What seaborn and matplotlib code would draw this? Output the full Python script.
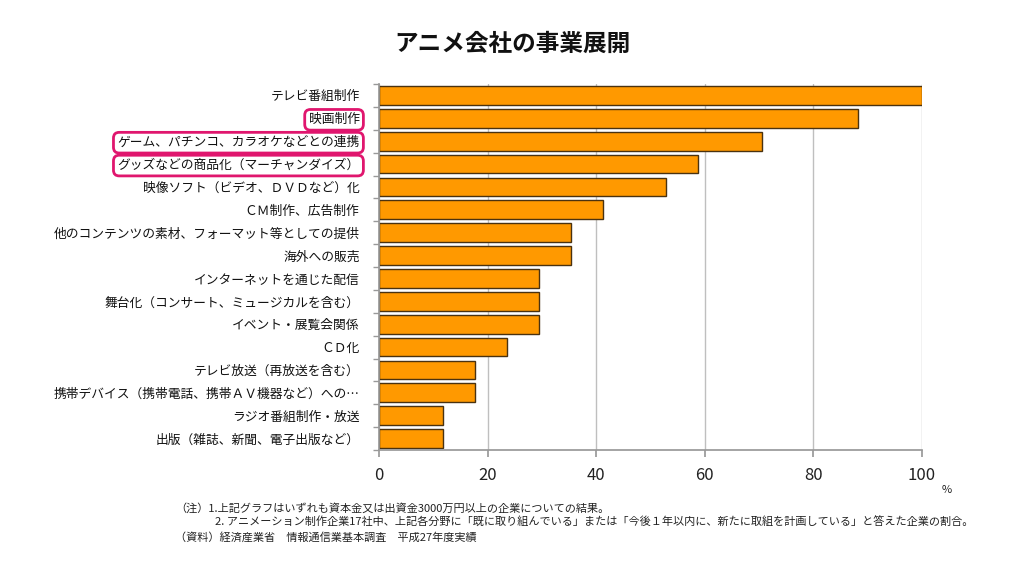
import numpy as np
import matplotlib
matplotlib.use("Agg")
import matplotlib.pyplot as plt
import seaborn as sns
import pandas as pd

# data (share of 17 companies, %)
categories = [
    "テレビ番組制作",
    "映画制作",
    "ゲーム、パチンコ、カラオケなどとの連携",
    "グッズなどの商品化（マーチャンダイズ）",
    "映像ソフト（ビデオ、ＤＶＤなど）化",
    "ＣＭ制作、広告制作",
    "他のコンテンツの素材、フォーマット等としての提供",
    "海外への販売",
    "インターネットを通じた配信",
    "舞台化（コンサート、ミュージカルを含む）",
    "イベント・展覧会関係",
    "ＣＤ化",
    "テレビ放送（再放送を含む）",
    "携帯デバイス（携帯電話、携帯ＡＶ機器など）への…",
    "ラジオ番組制作・放送",
    "出版（雑誌、新聞、電子出版など）",
]
values = [100, 88.2, 70.6, 58.8, 52.9, 41.2, 35.3, 35.3,
          29.4, 29.4, 29.4, 23.5, 17.6, 17.6, 11.8, 11.8]
highlighted = [1, 2, 3]
x_ticks = [0, 20, 40, 60, 80, 100]

sns.set_theme(style="white")
plt.rcParams['font.family'] = ['Noto Sans CJK JP', 'DejaVu Sans']

df = pd.DataFrame({"category": categories, "value": values})

fig = plt.figure(figsize=(10.24, 5.82), dpi=100)
ax = fig.add_axes([379 / 1024, 1 - 450 / 582, 543 / 1024, 366 / 582])

ax.grid(axis="x", color="#bfbfbf", linewidth=1)
ax.set_axisbelow(True)
sns.barplot(data=df, x="value", y="category", orient="h", color="#ff9900",
            edgecolor="#4a3210", linewidth=1, width=0.82, saturation=1, ax=ax)

ax.set_xlim(0, 100)
ax.set_ylim(len(categories) - 0.5, -0.5)
ax.set_xticks(x_ticks)
ax.set_xticklabels([str(t) for t in x_ticks], fontsize=12, color="#222222")
ax.set_xlabel("")
ax.set_ylabel("")
ax.tick_params(axis="x", bottom=True, length=5, color="#999999", pad=7)
ax.tick_params(axis="y", left=False, pad=8)
ax.set_yticks(np.arange(-0.5, len(categories), 1), minor=True)
ax.tick_params(axis="y", which="minor", left=True, length=4, color="#999999")

for s in ["top", "right"]:
    ax.spines[s].set_visible(False)
for s in ["left", "bottom"]:
    ax.spines[s].set_color("#999999")

for i, lab in enumerate(ax.get_yticklabels()):
    lab.set_fontsize(9.2)
    lab.set_color("#111111")
    if i in highlighted:
        lab.set_bbox(dict(boxstyle="round,pad=0.3,rounding_size=0.45",
                          facecolor="none", edgecolor="#e0166e", linewidth=2))

fig.text(0.5, 1 - 44 / 582, "アニメ会社の事業展開", ha="center", va="center",
         fontsize=17, fontweight="bold", color="#111111")
fig.text(947 / 1024, 1 - 490 / 582, "%", ha="center", va="center", fontsize=8,
         color="#222222")

notes = [
    (175, 508, "（注）1.上記グラフはいずれも資本金又は出資金3000万円以上の企業についての結果。"),
    (215, 522, "2. アニメーション制作企業17社中、上記各分野に「既に取り組んでいる」または「今後１年以内に、新たに取組を計画している」と答えた企業の割合。"),
    (175, 537, "（資料）経済産業省　情報通信業基本調査　平成27年度実績"),
]
for x, y, t in notes:
    fig.text(x / 1024, 1 - y / 582, t, ha="left", va="center", fontsize=8,
             color="#222222")

fig.savefig("out.png", dpi=100)
